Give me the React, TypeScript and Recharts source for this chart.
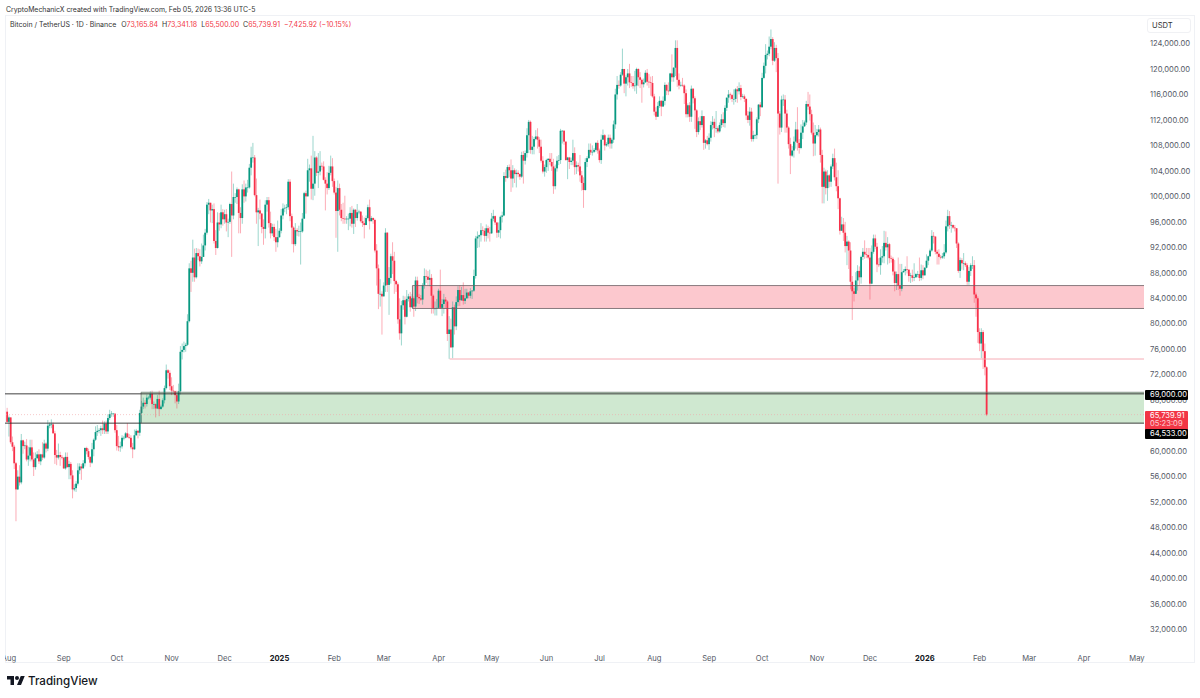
import React from "react";
import { ComposedChart, Bar, XAxis, YAxis, ReferenceArea, ReferenceLine } from "recharts";

const firstOpen = 66.2;

// Daily closes in thousands of USDT, one row per month (Jul 31 2024 sits in its own row)
const closesByMonth: number[][] = [
  [64.6],
  [65.3,61.4,60.7,58.1,54.0,56.0,55.1,61.7,60.8,60.9,58.7,59.3,60.6,58.7,57.5,58.9,59.5,58.4,59.5,59.0,61.2,60.4,64.0,64.2,64.2,62.8,59.4,59.0,59.4,59.1,59.0],
  [57.3,59.1,57.5,58.0,56.2,54.0,54.2,54.9,57.0,57.6,57.3,58.1,60.5,60.0,59.1,58.2,60.3,61.8,63.0,63.2,63.3,63.6,63.3,64.3,63.1,65.2,65.8,65.9,65.9,63.3],
  [60.8,60.6,60.75,62.1,62.1,62.8,62.2,62.1,60.6,60.3,62.5,63.2,62.9,66.0,67.0,67.6,67.4,68.4,68.4,69.0,67.4,67.4,66.7,68.2,66.6,67.0,68.0,69.9,72.7,72.3,70.2],
  [69.5,69.4,68.8,67.8,69.4,75.6,75.9,76.5,76.7,80.4,88.7,88.0,90.4,87.3,91.1,90.6,89.8,90.5,92.3,94.3,98.7,99.0,97.8,98.0,93.0,91.9,95.9,95.6,97.5,96.4],
  [97.2,95.9,96.0,98.8,97.0,99.9,99.9,101.1,97.4,96.6,101.1,100.0,101.4,101.4,104.5,106.1,106.1,100.2,97.5,97.8,97.3,95.2,94.9,98.7,99.4,95.8,94.2,95.2,93.6,92.8,93.6],
  [94.6,97.0,98.1,98.2,98.3,102.3,96.9,95.1,92.5,94.7,94.5,94.5,94.5,96.5,100.5,100.0,104.1,104.4,101.2,102.0,106.1,103.7,103.9,104.8,104.7,102.6,102.0,101.3,103.7,104.7,102.4],
  [100.6,97.7,101.3,97.9,96.6,96.5,96.4,96.5,96.5,97.4,95.7,97.9,96.6,97.5,97.6,96.1,95.8,95.5,96.6,98.3,96.1,96.6,96.3,91.5,88.7,84.7,84.7,84.3],
  [86.0,94.3,86.1,87.2,90.6,89.9,86.7,86.2,80.7,78.5,82.9,83.7,81.1,83.9,84.3,82.6,84.0,82.7,86.8,84.2,84.0,83.8,86.1,87.5,87.4,86.9,87.2,84.4,82.4,82.4,82.5],
  [85.2,82.5,83.1,83.8,83.5,78.4,79.1,76.3,82.6,79.6,83.4,85.3,83.7,84.5,83.6,84.0,84.9,84.4,85.1,85.2,87.5,93.4,93.7,93.9,94.7,94.6,93.8,95.0,94.3,94.2],
  [96.5,96.9,95.9,94.3,94.7,96.8,97.0,103.2,102.9,104.6,104.1,102.8,104.1,103.5,103.7,103.5,103.1,106.5,105.6,106.8,109.6,111.7,107.3,107.8,109.0,109.4,108.9,107.8,105.6,103.9,104.6],
  [105.7,105.9,105.4,104.7,101.6,104.4,105.6,105.7,110.3,110.3,108.6,105.7,106.1,105.4,105.6,106.8,104.6,104.9,104.7,103.3,102.1,101.0,105.4,106.0,107.3,106.9,107.0,107.3,108.4,107.2],
  [105.7,108.9,109.6,108.0,108.2,109.2,108.3,108.9,111.3,116.0,117.5,117.4,119.1,120.0,117.7,118.7,119.3,117.9,117.8,117.3,117.4,120.0,118.7,118.3,117.6,117.9,119.4,118.0,117.9,117.8,115.7],
  [113.3,112.5,114.2,115.0,114.1,115.0,117.5,116.6,116.5,119.3,118.7,120.2,123.3,118.3,117.4,117.5,117.4,116.2,112.9,114.3,112.5,116.9,115.4,113.5,110.1,111.8,111.2,112.6,108.4,108.8,108.2],
  [109.2,111.2,111.7,110.7,110.7,110.2,111.2,112.1,111.5,113.9,115.5,116.0,115.9,115.3,115.3,116.8,116.5,117.0,115.6,115.7,115.3,112.7,112.0,113.3,109.0,109.6,109.6,112.1,114.4,114.0],
  [118.6,120.5,122.2,122.4,123.5,124.7,121.3,123.3,121.7,113.0,110.8,115.2,115.2,113.0,110.8,108.2,106.4,107.2,108.6,110.5,108.4,107.6,110.0,111.0,111.6,114.5,114.1,112.9,110.0,108.3,109.6],
  [110.1,110.5,106.5,101.5,103.9,101.3,103.3,102.3,104.7,106.0,103.0,101.6,99.7,94.6,95.6,94.3,92.2,92.9,91.5,86.6,85.1,84.7,86.8,88.3,87.3,90.5,91.3,90.9,90.8,90.4],
  [86.3,91.3,93.4,92.1,89.3,89.2,90.4,90.6,92.7,92.0,92.5,90.3,90.2,88.2,86.4,87.8,86.0,85.5,88.1,88.3,88.6,88.5,87.5,87.6,87.2,87.3,87.8,87.8,87.2,88.4,87.6],
  [88.8,89.9,90.6,91.5,93.8,93.7,91.3,91.0,90.5,90.4,90.6,91.2,95.3,96.9,95.5,95.5,95.1,95.0,92.6,88.3,90.0,89.5,89.5,89.2,86.6,88.3,89.2,89.2,84.6,84.0,78.7],
  [76.9,78.7,75.7,73.17,65.74],
];

const highsByMonth: number[][] = [
  [66.8],
  [65.6,65.0,62.3,61.0,58.3,57.0,57.8,62.7,61.8,61.5,61.9,60.7,61.8,61.8,59.8,59.8,60.0,60.3,59.6,61.4,61.8,61.4,64.9,64.5,65.0,64.5,63.2,60.2,61.2,59.9,59.4],
  [59.0,59.8,59.8,58.5,58.3,57.0,54.8,55.3,58.1,58.1,58.0,58.6,60.6,60.7,60.4,59.2,61.3,62.0,63.9,64.1,63.6,64.0,64.8,64.7,64.8,65.8,66.5,66.3,66.0,65.6],
  [64.1,62.4,61.5,62.5,62.4,63.0,64.4,62.7,62.5,61.3,63.4,63.5,63.3,66.5,67.9,68.4,68.0,68.9,68.7,69.4,69.5,67.8,67.5,68.8,69.5,67.3,68.3,70.3,73.6,72.9,72.7],
  [71.6,70.4,69.5,69.5,70.6,76.5,76.9,77.2,77.0,81.5,89.5,89.9,93.2,91.8,91.9,91.8,91.7,92.6,94.0,94.9,99.1,99.6,99.0,98.7,98.9,94.7,97.5,97.4,98.7,98.0],
  [97.9,98.0,96.5,99.0,103.9,102.0,100.5,101.4,101.2,98.3,101.9,102.5,102.0,102.6,105.1,107.8,108.4,106.5,102.8,98.2,99.5,97.4,96.4,99.4,99.9,99.9,97.6,95.7,95.7,94.9,96.2],
  [95.0,98.0,98.9,98.7,98.8,102.7,102.7,97.3,95.3,95.8,95.0,95.4,95.9,97.4,100.7,100.9,105.9,105.0,106.4,109.5,107.1,106.3,106.8,107.1,105.3,105.5,103.0,103.8,104.8,106.4,106.0],
  [102.8,101.5,102.5,102.0,98.8,99.0,100.1,96.9,97.3,98.3,98.5,98.1,98.0,98.8,97.9,97.7,97.0,96.7,97.0,98.7,99.5,96.9,96.7,96.5,92.5,89.3,87.0,85.1],
  [86.5,95.0,94.4,88.9,91.0,92.8,91.3,86.9,86.5,84.0,83.6,84.4,84.3,85.3,84.7,85.0,84.7,84.3,87.4,87.4,84.7,84.5,86.4,88.7,88.5,88.3,88.5,87.8,84.6,83.5,83.9],
  [85.5,88.5,83.9,84.7,84.2,83.7,81.2,80.8,83.5,83.0,84.3,85.9,86.0,85.8,86.5,85.5,85.5,85.0,85.6,85.3,88.5,93.8,94.5,94.0,95.8,95.3,95.0,95.6,95.4,95.2],
  [97.4,97.9,97.0,96.0,95.9,97.0,97.6,103.8,104.2,104.9,105.0,105.8,104.9,104.4,104.2,104.1,103.6,107.0,107.1,107.2,110.7,112.0,111.9,109.5,109.3,110.4,110.7,109.3,108.9,106.3,105.0],
  [105.9,106.0,106.8,106.8,105.9,105.0,106.3,106.5,110.6,110.4,110.4,108.5,106.2,106.2,106.1,108.9,107.7,105.5,105.3,106.5,104.0,103.0,106.0,106.3,108.3,108.3,108.0,107.6,108.5,108.8],
  [107.5,109.7,110.5,109.8,108.5,109.7,109.7,109.2,111.9,116.9,118.9,118.2,119.5,123.2,120.0,119.0,120.0,120.8,118.9,118.9,119.7,120.2,120.1,119.5,118.5,118.5,119.8,120.0,119.2,118.8,118.9],
  [116.1,114.0,114.8,115.7,115.1,115.7,117.9,117.6,117.9,119.4,122.3,120.3,124.5,124.5,119.3,118.0,118.6,117.6,116.8,114.6,114.8,117.4,117.0,115.7,113.7,112.4,112.6,113.5,112.6,109.0,109.5],
  [109.9,111.8,112.6,112.2,113.4,111.0,111.6,112.9,113.2,114.3,115.4,116.7,116.3,116.1,116.8,117.0,117.3,117.9,117.5,116.1,116.0,115.4,113.4,114.0,113.9,110.3,109.8,112.4,114.5,114.8],
  [119.4,121.0,123.9,122.9,125.1,126.2,125.0,124.2,123.8,122.5,113.4,115.8,116.0,115.9,113.6,111.0,109.2,107.9,109.4,111.7,114.0,109.0,111.3,112.0,111.9,115.0,116.4,116.0,113.6,111.6,111.2],
  [110.6,111.2,110.8,107.3,104.5,104.2,104.1,103.5,105.0,106.7,107.5,105.3,104.1,99.8,96.8,96.6,96.0,93.8,93.1,92.8,87.5,85.6,88.1,89.2,89.0,90.7,91.9,93.1,91.9,91.9],
  [91.9,92.3,94.0,94.0,92.7,90.3,91.7,92.2,94.6,94.5,93.6,92.7,90.7,90.5,90.0,88.2,90.4,89.4,89.4,88.6,89.0,90.6,88.0,88.0,88.5,89.5,88.0,88.3,90.4,89.3,89.2],
  [88.9,90.9,90.7,91.8,94.7,94.4,93.6,91.6,91.7,90.8,91.1,92.5,96.2,97.9,97.7,96.0,95.6,95.5,95.0,92.8,90.4,90.3,91.1,89.8,89.5,88.9,89.5,90.6,90.0,84.9,84.3],
  [79.3,79.3,79.0,76.9,73.34],
];

const lowsByMonth: number[][] = [
  [64.5],
  [62.3,61.1,60.0,57.2,49.0,53.9,54.6,54.8,59.6,60.3,58.4,57.7,58.4,58.4,56.1,57.1,58.8,58.0,57.8,58.6,58.8,59.8,60.0,63.6,63.6,62.8,58.0,57.8,58.7,57.7,58.7],
  [57.2,57.1,57.4,55.6,55.6,52.6,53.7,53.6,54.6,56.4,55.5,57.3,57.6,59.5,58.7,57.5,58.0,59.2,61.6,62.4,62.8,62.4,62.7,62.7,62.7,62.7,64.9,65.4,65.4,62.9],
  [60.1,60.0,59.9,60.4,61.7,62.0,62.1,61.9,60.3,58.9,60.2,62.4,62.0,62.4,64.5,66.6,66.7,67.0,68.1,68.1,66.6,66.6,65.3,66.6,65.5,66.6,66.8,67.5,69.7,71.4,69.6],
  [68.8,69.0,67.5,66.7,67.4,68.9,74.4,75.5,75.6,76.5,80.2,85.0,86.6,86.6,87.1,90.0,89.0,89.4,91.4,91.5,94.0,97.2,95.9,95.8,92.6,90.8,91.8,94.6,95.0,95.4],
  [95.7,94.5,93.6,95.7,90.5,96.4,99.0,98.8,94.2,94.2,95.7,99.0,99.2,100.6,101.2,103.3,105.3,100.0,95.7,92.2,96.4,94.2,92.4,93.4,97.6,95.1,93.4,93.8,93.0,91.3,92.0],
  [93.5,94.2,96.4,97.5,97.2,97.9,96.1,92.5,91.2,92.2,93.8,93.7,89.3,94.3,96.5,97.3,100.0,102.3,99.5,99.4,100.1,103.2,101.3,103.3,104.1,102.5,97.8,100.3,101.0,103.3,101.5],
  [100.3,93.5,91.3,97.0,96.1,95.7,95.7,95.7,94.7,95.3,95.1,94.1,95.2,96.2,97.2,95.9,95.2,93.4,95.7,96.4,94.8,96.2,95.7,91.2,86.0,82.3,82.7,78.3],
  [84.3,85.0,85.0,81.4,86.3,87.8,84.7,85.0,80.0,77.5,76.6,82.2,79.9,81.0,83.5,81.9,82.5,81.1,82.0,83.2,83.1,83.6,83.0,85.5,86.4,86.0,85.9,81.6,81.6,81.3,81.3],
  [82.4,82.3,81.2,81.6,82.4,77.3,74.5,76.2,74.6,78.3,79.0,82.8,82.8,83.6,83.0,83.1,83.9,84.0,84.0,83.9,85.0,87.1,91.9,92.0,92.9,93.9,92.9,92.9,93.4,92.9],
  [94.1,96.1,95.5,93.5,93.6,93.4,95.9,96.9,102.3,102.8,103.0,100.7,101.4,102.1,101.4,103.0,102.6,102.9,102.0,105.0,106.1,106.8,106.7,106.6,106.6,108.8,107.5,106.8,105.3,103.6,103.1],
  [103.7,104.0,104.9,104.0,100.4,101.1,103.9,104.9,105.1,108.3,108.1,105.6,102.7,104.3,104.9,104.9,103.4,103.5,103.9,102.3,100.9,98.2,100.9,104.6,105.9,106.5,106.4,106.8,107.0,106.7],
  [105.3,105.1,108.9,107.2,107.8,107.8,107.5,107.5,108.4,110.6,115.2,116.9,117.2,118.9,116.2,115.7,117.4,117.0,117.2,116.9,116.5,116.1,117.3,117.0,114.7,117.1,117.8,117.4,117.0,115.8,115.5],
  [112.7,112.0,112.5,113.9,112.6,114.2,114.3,115.9,115.9,116.5,118.0,118.0,118.9,117.2,116.8,117.2,117.2,114.5,112.4,112.4,111.7,111.7,114.6,110.6,109.3,109.7,110.4,110.8,107.3,107.5,108.0],
  [107.3,108.6,110.5,109.3,110.0,109.9,110.0,110.7,110.9,110.8,113.4,114.7,115.2,114.8,114.4,114.8,114.7,116.0,115.1,115.4,114.8,112.0,111.5,111.1,108.6,108.6,109.0,109.0,111.5,112.6],
  [113.9,118.4,119.3,121.5,122.0,123.1,120.6,121.1,119.5,102.0,109.7,110.1,114.2,110.0,110.0,107.5,103.5,106.2,106.1,107.5,107.2,106.7,107.4,109.0,110.9,111.2,113.6,111.9,109.7,106.3,106.4],
  [109.4,109.4,105.3,98.9,98.9,100.3,99.3,101.4,101.5,104.3,102.5,100.8,98.0,94.0,94.6,93.0,91.2,89.2,88.6,85.4,80.6,83.5,84.7,85.2,86.1,86.3,90.0,90.2,90.3,90.1],
  [83.8,86.2,91.0,91.7,88.1,88.9,87.7,89.6,89.5,91.5,89.3,89.5,89.6,87.6,85.1,85.3,85.3,84.4,85.1,88.0,87.6,87.9,86.6,86.4,86.6,86.7,87.2,87.3,86.7,86.8,87.0],
  [87.6,88.7,89.2,90.5,91.3,92.6,90.9,89.3,89.3,90.1,90.2,90.2,91.0,94.5,94.9,94.3,94.9,94.5,91.9,88.0,87.2,88.5,88.4,88.9,86.1,86.1,87.5,88.6,83.3,81.1,77.0],
  [75.7,74.6,72.9,71.9,65.5],
];

const priceTicks = [124,120,116,112,108,104,100,96,92,88,84,80,76,72,68,64,60,56,52,48,44,40,36,32].map((v) => v * 1000);
const monthDays = [0,31,61,92,122,153,184,212,243,273,304,334,365,396,426,457,487,518,549,577,608,638];
const monthLabels = ["Aug","Sep","Oct","Nov","Dec","2025","Feb","Mar","Apr","May","Jun","Jul","Aug","Sep","Oct","Nov","Dec","2026","Feb","Mar","Apr","May"];

const closes = closesByMonth.flat();
const highs = highsByMonth.flat();
const lows = lowsByMonth.flat();

const table = closes.map((c, i) => {
  const open = (i === 0 ? firstOpen : closes[i - 1]) * 1000;
  const close = c * 1000;
  const high = Math.max(highs[i] * 1000, open, close);
  const low = Math.min(lows[i] * 1000, open, close);
  return { day: i - 1, open, close, high, low };
});

const UP = "#089981";
const DOWN = "#F7314A";
const FONT = "Inter, 'Noto Sans', sans-serif";
const RIGHT_DAY = 641.96;

function Candle(props: any) {
  const { x, y, width, height, payload } = props;
  const cx = x + width / 2;
  const h = Math.abs(height);
  const top = height < 0 ? y + height : y;
  const k = h / (payload.high - payload.low || 1);
  const yOpen = top + (payload.high - payload.open) * k;
  const yClose = top + (payload.high - payload.close) * k;
  const color = payload.close >= payload.open ? UP : DOWN;
  return (
    <g>
      <line x1={cx} x2={cx} y1={top} y2={top + h} stroke={color} strokeOpacity={0.4} strokeWidth={1} />
      <rect x={cx - 0.9} width={1.8} y={Math.min(yOpen, yClose)} height={Math.max(Math.abs(yClose - yOpen), 0.6)} fill={color} />
    </g>
  );
}

function MonthTick(props: any) {
  const { x, y, payload } = props;
  const label = monthLabels[monthDays.indexOf(payload.value)];
  const bold = label === "2025" || label === "2026";
  return (
    <g clipPath="url(#xClip)">
      <text x={x} y={y} dy={5} textAnchor="middle" fontFamily={FONT} fontSize={7.6} fontWeight={bold ? 700 : 400} fill={bold ? "#131722" : "#555a66"}>
        {label}
      </text>
    </g>
  );
}

const abs = (s: React.CSSProperties): React.CSSProperties => ({ position: "absolute", whiteSpace: "nowrap", ...s });

function PriceTag({ top, height, bg, children }: { top: number; height: number; bg: string; children: React.ReactNode }) {
  return (
    <div style={abs({ left: 1145, top, width: 43, height, background: bg, borderRadius: 1, color: "#fff", fontSize: 7.6, lineHeight: "8.4px", paddingLeft: 5, boxSizing: "border-box", display: "flex", flexDirection: "column", justifyContent: "center" })}>
      {children}
    </div>
  );
}

export default function App() {
  return (
    <div style={{ position: "absolute", left: 0, top: 0, width: 1200, height: 698, background: "#fff", overflow: "hidden", fontFamily: FONT }}>
      <div style={abs({ left: 5, top: 15, width: 1190, height: 648, border: "1px solid #eff1f5", boxSizing: "border-box" })} />
      <div style={{ position: "absolute", left: 0, top: 0 }}>
        <ComposedChart width={1200} height={698} data={table} margin={{ top: 16, right: 0, bottom: 35, left: 5 }}>
          <defs>
            <clipPath id="xClip">
              <rect x={5} y={600} width={1190} height={98} />
            </clipPath>
          </defs>
          <XAxis
            dataKey="day"
            type="number"
            domain={[-2.26, RIGHT_DAY]}
            allowDataOverflow
            ticks={monthDays}
            interval={0}
            height={15}
            tickLine={false}
            axisLine={false}
            tick={<MonthTick />}
          />
          <YAxis
            orientation="right"
            width={56}
            domain={[29102, 128317]}
            allowDataOverflow
            ticks={priceTicks}
            interval={0}
            tickLine={false}
            axisLine={false}
            tickSize={0}
            tickMargin={6}
            tickFormatter={(v: number) => v.toLocaleString("en-US", { minimumFractionDigits: 2 })}
            tick={{ fontFamily: FONT, fontSize: 7.6, fill: "#555a66" }}
          />
          <ReferenceArea x1={74.7} x2={RIGHT_DAY} y1={64400} y2={69250} fill="#CFE8D0" fillOpacity={1} />
          <ReferenceLine segment={[{ x: 74.7, y: 69250 }, { x: RIGHT_DAY, y: 69250 }]} stroke="#5f6b62" strokeWidth={0.7} />
          <ReferenceLine segment={[{ x: 74.7, y: 64400 }, { x: 74.7, y: 69250 }]} stroke="#5f6b62" strokeWidth={0.7} />
          <ReferenceArea x1={228.2} x2={RIGHT_DAY} y1={82400} y2={86000} fill="#FCC8CE" fillOpacity={1} />
          <ReferenceLine segment={[{ x: 228.2, y: 86000 }, { x: RIGHT_DAY, y: 86000 }]} stroke="#6b6164" strokeWidth={0.8} />
          <ReferenceLine segment={[{ x: 228.2, y: 82400 }, { x: RIGHT_DAY, y: 82400 }]} stroke="#6b6164" strokeWidth={0.8} />
          <ReferenceLine segment={[{ x: 228.2, y: 82400 }, { x: 228.2, y: 86000 }]} stroke="#6b6164" strokeWidth={0.8} />
          <ReferenceLine y={69000} stroke="#2b2b2b" strokeWidth={0.9} />
          <ReferenceLine y={64400} stroke="#2b2b2b" strokeWidth={0.9} />
          <ReferenceLine y={65739.91} stroke="#F2A6A8" strokeWidth={0.6} strokeDasharray="1 2" />
          <ReferenceLine segment={[{ x: 249.2, y: 74470 }, { x: RIGHT_DAY, y: 74470 }]} stroke="#F5A3AD" strokeWidth={0.9} />
          <Bar dataKey={(d: any) => [d.low, d.high]} barSize={2} shape={<Candle />} isAnimationActive={false} />
        </ComposedChart>
      </div>

      <div style={abs({ left: 6, top: 4, fontSize: 6.9, lineHeight: "11px", color: "#333" })}>
        CryptoMechanicX created with TradingView.com, Feb 05, 2026 13:36 UTC-5
      </div>
      <div style={abs({ left: 10, top: 19, fontSize: 7, lineHeight: "11px", color: "#333" })}>
        Bitcoin / TetherUS · 1D · Binance
        <span style={{ marginLeft: 5 }}>O</span><span style={{ color: "#F23645" }}>73,165.84</span>
        <span style={{ marginLeft: 4 }}>H</span><span style={{ color: "#F23645" }}>73,341.18</span>
        <span style={{ marginLeft: 4 }}>L</span><span style={{ color: "#F23645" }}>65,500.00</span>
        <span style={{ marginLeft: 4 }}>C</span><span style={{ color: "#F23645" }}>65,739.91</span>
        <span style={{ marginLeft: 4, color: "#F23645" }}>−7,425.92 (−10.15%)</span>
      </div>

      <div style={abs({ left: 1147, top: 18, width: 44, height: 15, border: "1px solid #f0f1f4", borderRadius: 3, boxSizing: "border-box", fontSize: 7.6, lineHeight: "13px", paddingLeft: 4, color: "#333" })}>
        USDT
      </div>

      <PriceTag top={390} height={9.5} bg="#000">69,000.00</PriceTag>
      <PriceTag top={410.5} height={19} bg="#F23645">
        <span>65,739.91</span>
        <span style={{ opacity: 0.75 }}>05:23:09</span>
      </PriceTag>
      <PriceTag top={429} height={9.5} bg="#000">64,533.00</PriceTag>

      <svg style={{ position: "absolute", left: 7, top: 674 }} width={18} height={14} viewBox="0 0 36 28">
        <path d="M14 22H7V11H0V4h14v18zM28 22h-8l7.5-18h8L28 22z" fill="#131722" />
        <circle cx={20} cy={8} r={4} fill="#131722" />
      </svg>
      <div style={abs({ left: 28, top: 673, fontSize: 11.6, lineHeight: "16px", fontWeight: 500, color: "#131722" })}>TradingView</div>
    </div>
  );
}
